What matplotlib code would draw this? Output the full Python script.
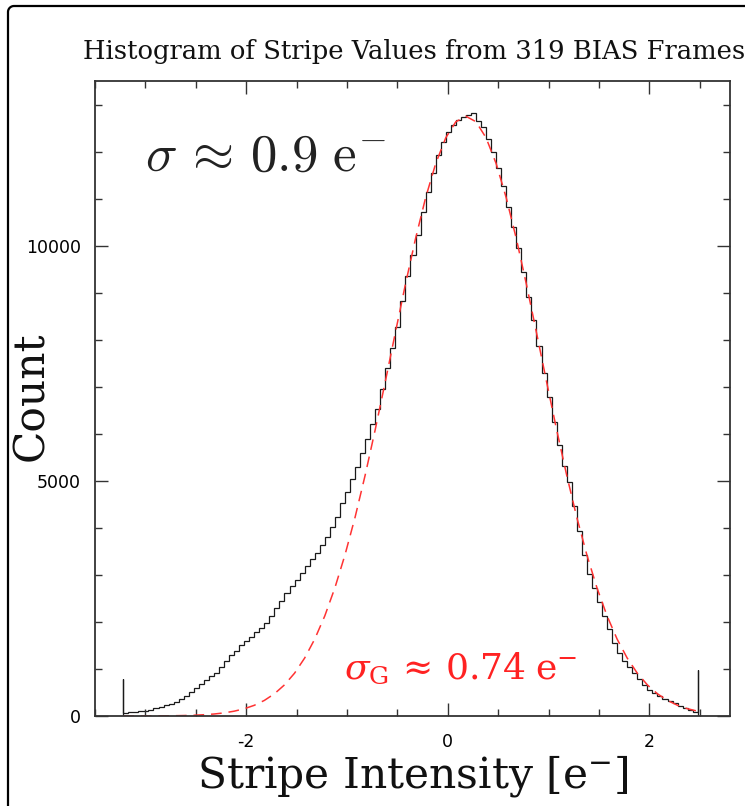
import numpy as np
import matplotlib
matplotlib.use('Agg')
import matplotlib.pyplot as plt
from matplotlib.ticker import MultipleLocator, FixedLocator
from matplotlib.lines import Line2D

plt.rcParams['axes.unicode_minus'] = False

# ── Data ────────────────────────────────────────────────────────────────────
# regular histogram bins, 0.05 wide, from -3.22 to 2.48
bin_lo, bin_w = -3.22, 0.05
counts = [
    65, 75, 85, 98, 112, 135, 160, 195, 228, 262,
    300, 365, 425, 505, 600, 680, 770, 850, 920, 1050,
    1160, 1290, 1390, 1500, 1590, 1690, 1790, 1880, 1985, 2130,
    2290, 2450, 2610, 2760, 2900, 3050, 3180, 3330, 3470, 3640,
    3810, 4020, 4240, 4520, 4770, 5040, 5300, 5590, 5880, 6200,
    6530, 6960, 7400, 7830, 8280, 8820, 9350, 9800, 10230, 10720,
    11150, 11540, 11930, 12210, 12420, 12560, 12670, 12740, 12780, 12810,
    12650, 12520, 12270, 11980, 11640, 11260, 10820, 10400, 9950, 9430,
    8900, 8420, 7860, 7300, 6780, 6250, 5760, 5320, 4980, 4470,
    3930, 3430, 3010, 2720, 2420, 2120, 1850, 1560, 1330, 1160,
    1040, 920, 780, 660, 560, 490, 430, 370, 320, 270,
    220, 170, 125, 90,
]
# pile-up of clipped values at both ends
under_count, over_count = 785, 977

# gaussian fit, sampled every 0.1 from -3.22
fit_x0, fit_dx = -3.22, 0.1
fit_counts = [
    0.3, 0.6, 1.1, 2.0, 3.4, 5.9, 9.9, 16, 27, 42,
    66, 102, 154, 227, 331, 472, 662, 911, 1232, 1635,
    2129, 2725, 3424, 4223, 5117, 6086, 7108, 8151, 9179, 10148,
    11017, 11744, 12292, 12634, 12750, 12634, 12292, 11744, 11017, 10148,
    9179, 8151, 7108, 6086, 5117, 4223, 3424, 2725, 2129, 1635,
    1232, 911, 662, 472, 331, 227, 154, 102,
]

title = 'Histogram of Stripe Values from 319 BIAS Frames'
x_ticks = [-2, 0, 2]
y_ticks = [0, 5000, 10000]

# ── Figure ──────────────────────────────────────────────────────────────────
W, H = 745, 806
def fx(px): return px / W
def fy(py): return 1 - py / H

fig = plt.figure(figsize=(W / 100, H / 100), dpi=100, facecolor='white')
ax = fig.add_axes([fx(95), fy(716), fx(730) - fx(95), fy(81) - fy(716)])

edges = [bin_lo - 0.005] + [round(bin_lo + i * bin_w, 3) for i in range(len(counts) + 1)]
edges.append(edges[-1] + 0.005)
vals = [under_count] + counts + [over_count]
ax.stairs(vals, edges, baseline=0, color='#1a1a1a', lw=0.9)

fx_vals = [fit_x0 + i * fit_dx for i in range(len(fit_counts))]
ax.plot(fx_vals, fit_counts, color='#ff3333', lw=1.1, ls=(0, (7, 4.5)))

ax.set_xlim(-3.5, 2.8)
ax.set_ylim(0, 13500)

ax.xaxis.set_major_locator(FixedLocator(x_ticks))
ax.xaxis.set_minor_locator(MultipleLocator(0.5))
ax.yaxis.set_major_locator(FixedLocator(y_ticks))
ax.yaxis.set_minor_locator(MultipleLocator(1000))
ax.tick_params(which='both', direction='in', top=True, right=True,
               color='#333333', width=1.0)
ax.tick_params(which='major', length=9.5, labelsize=12.5, pad=10)
ax.tick_params(which='minor', length=5)
ax.tick_params(axis='x', which='major', pad=12)
for sp in ax.spines.values():
    sp.set_color('#333333')
    sp.set_linewidth(1.3)

# ── Texts ───────────────────────────────────────────────────────────────────
fig.text(fx(83), fy(52), title, family='DejaVu Serif', fontsize=18.6,
         ha='left', va='center', color='#111111')
fig.text(fx(413), fy(776), r'Stripe Intensity [e$^{-}$]', family='DejaVu Serif',
         math_fontfamily='dejavuserif', fontsize=30.5, ha='center', va='center',
         color='#111111')
fig.text(fx(31), fy(396), 'Count', family='DejaVu Serif', fontsize=30.5,
         rotation=90, ha='center', va='center', color='#111111')

ax.text(-3.0, 11600, r'$\sigma\,\approx\,0.9\ \mathrm{e}^{-}$', math_fontfamily='cm',
        fontsize=38, ha='left', va='baseline', color='#222222')
ax.text(-1.03, 800, r'$\sigma_\mathrm{G}\,\approx\,0.74\;\mathrm{e}^{-}$',
        math_fontfamily='dejavuserif', fontsize=26, ha='left', va='baseline',
        color='#ff2222')

# outer frame, cut off on the right and bottom
r = 6
corner = np.linspace(np.pi, np.pi / 2, 12)
px_x = [8, 8] + list(8 + r + r * np.cos(corner)) + [W + 5]
px_y = [H + 5, 6 + r] + list(6 + r - r * np.sin(corner)) + [6]
fig.add_artist(Line2D([fx(v) for v in px_x], [fy(v) for v in px_y],
                      transform=fig.transFigure, color='black', lw=1.6))

fig.savefig('out.png', dpi=100)
